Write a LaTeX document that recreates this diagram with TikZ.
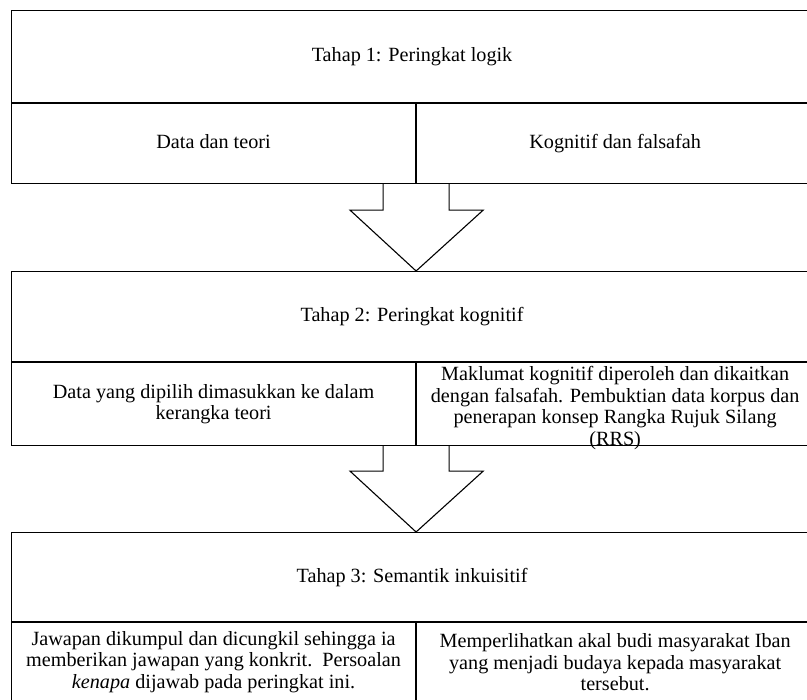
\documentclass[tikz,border=0pt]{standalone}
\usepackage{fontspec}
\setmainfont{Liberation Serif}
\usetikzlibrary{calc}

\begin{document}
\begin{tikzpicture}[x=1pt, y=-1pt,
    cell/.style={draw, rectangle, inner sep=0pt, anchor=north west, align=center,
                 line width=1.1pt, font=\fontsize{20.2}{21.5}\selectfont},
    oneline/.style={text height=14pt, text depth=4pt},
    celltext/.style={inner sep=0pt, align=center, font=\fontsize{20.2}{21.5}\selectfont},
    blockarrow/.style={draw, line width=1.1pt, line join=miter}]

    \useasboundingbox (0,0) rectangle (807,700);

    % Tahap 1
    \node (T1) [cell, oneline, minimum width=801pt, minimum height=92pt] at (11,10) {Tahap 1: Peringkat logik};
    \node (L1) [cell, oneline, minimum width=404pt, minimum height=80pt] at (T1.south west) {Data dan teori};
    \node (R1) [cell, oneline, minimum width=397pt, minimum height=80pt] at (L1.north east) {Kognitif dan falsafah};

    % Tahap 2
    \node (T2) [cell, oneline, minimum width=801pt, minimum height=90pt] at (11,271) {Tahap 2: Peringkat kognitif};
    \node (L2) [cell, minimum width=404pt, minimum height=83pt] at (T2.south west) {Data yang dipilih dimasukkan ke dalam\\ kerangka teori};
    \node (R2) [cell, minimum width=397pt, minimum height=83pt] at (L2.north east) {};
    \node (R2txt) [celltext] at ($(R2.center)+(0,4)$) {Maklumat kognitif diperoleh dan dikaitkan\\ dengan falsafah. Pembuktian data korpus dan\\ penerapan konsep Rangka Rujuk Silang\\ (RRS)};

    % Tahap 3
    \node (T3) [cell, oneline, minimum width=801pt, minimum height=89pt] at (11,532) {Tahap 3: Semantik inkuisitif};
    \node (L3) [cell, minimum width=404pt, minimum height=79pt] at (T3.south west) {Jawapan dikumpul dan dicungkil sehingga ia\\ memberikan jawapan yang konkrit.\ \ Persoalan\\ \textit{kenapa} dijawab pada peringkat ini.};
    \node (R3) [cell, minimum width=397pt, minimum height=79pt] at (L3.north east) {Memperlihatkan akal budi masyarakat Iban\\ yang menjadi budaya kepada masyarakat\\ tersebut.};

    \coordinate (base1) at (L1.south east);
    \coordinate (tip1)  at (T2.north -| L1.east);
    \coordinate (base2) at (L2.south east);
    \coordinate (tip2)  at (T3.north -| L2.east);

    \draw [blockarrow] ($(base1)+(-33,0)$) -- ($(base1)+(-33,26)$) -- ($(base1)+(-66,26)$) -- (tip1)
        -- ($(base1)+(67,26)$) -- ($(base1)+(33,26)$) -- ($(base1)+(33,0)$);
    \draw [blockarrow] ($(base2)+(-33,0)$) -- ($(base2)+(-33,25)$) -- ($(base2)+(-66,25)$) -- (tip2)
        -- ($(base2)+(67,25)$) -- ($(base2)+(33,25)$) -- ($(base2)+(33,0)$);

\end{tikzpicture}
\end{document}
